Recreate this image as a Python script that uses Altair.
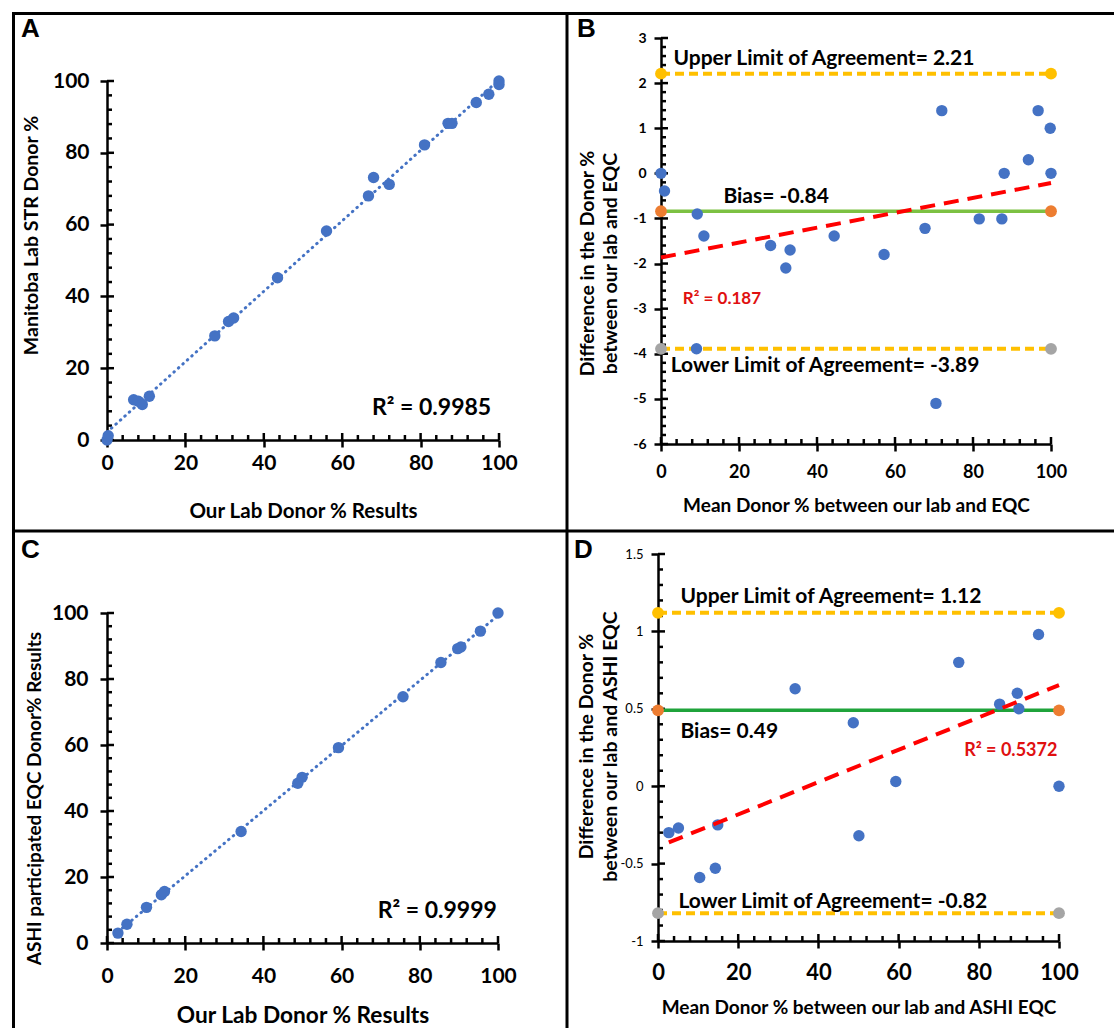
import altair as alt
import pandas as pd

W, H = 1114, 1028
FONT = "Lato"
BLUE = "#4472C4"
INK = "#000000"

# ---------------- data ----------------
# Panel A: our lab vs Manitoba STR
a_x = [0, 0.3, 6.8, 8.0, 9.0, 10.8, 27.5, 31.0, 32.3, 43.5, 56.0, 66.7, 68.0, 72.0, 81.0, 87.0, 88.0, 94.2, 97.4, 100.0, 100.0]
a_y = [0, 1.2, 11.2, 10.8, 9.9, 12.2, 29.0, 33.0, 34.0, 45.2, 58.2, 68.0, 73.1, 71.2, 82.2, 88.2, 88.2, 94.0, 96.3, 100.0, 99.0]

# Panel B: Bland-Altman vs EQC
b_x = [0, 0.9, 9.3, 11.0, 9.1, 28.1, 32.0, 33.1, 44.4, 57.2, 67.7, 70.5, 72.0, 81.6, 87.4, 88.0, 94.2, 96.7, 99.8, 100.0]
b_y = [0.0, -0.39, -0.9, -1.39, -3.89, -1.6, -2.1, -1.7, -1.39, -1.8, -1.22, -5.1, 1.39, -1.01, -1.01, 0.0, 0.3, 1.39, 1.0, 0.0]
b_limits = {"upper": 2.21, "bias": -0.84, "lower": -3.89}

# Panel C: our lab vs ASHI EQC
c_x = [2.8, 5.1, 10.1, 13.9, 14.7, 34.3, 48.8, 49.9, 59.2, 75.7, 85.4, 89.7, 90.5, 95.5, 100.0]
c_y = [3.0, 5.7, 10.8, 14.6, 15.6, 33.8, 48.4, 50.2, 59.2, 74.6, 85.0, 89.2, 89.7, 94.5, 100.0]

# Panel D: Bland-Altman vs ASHI EQC
d_x = [2.7, 5.1, 10.4, 14.9, 14.3, 34.2, 48.7, 50.1, 59.3, 75.0, 85.2, 89.6, 90.0, 94.9, 100.0]
d_y = [-0.30, -0.27, -0.59, -0.25, -0.53, 0.63, 0.41, -0.32, 0.03, 0.80, 0.53, 0.60, 0.50, 0.98, 0.0]
d_limits = {"upper": 1.12, "bias": 0.49, "lower": -0.82}

# tick values
pct_major = [0, 20, 40, 60, 80, 100]
pct_minor = [v for v in range(0, 101, 4) if v % 20 != 0]
b_y_major = [-6, -5, -4, -3, -2, -1, 0, 1, 2, 3]
b_y_minor = [round(-6 + 0.2 * i, 2) for i in range(46) if i % 5 != 0]
d_y_major = [-1, -0.5, 0, 0.5, 1, 1.5]
d_y_minor = [round(-1 + 0.1 * i, 2) for i in range(26) if i % 5 != 0]

MAJOR_PX, MINOR_PX = 7, 5


def scales(p):
    xs = alt.Scale(domain=p["xdom"], range=list(p["xr"]), nice=False, zero=False)
    ys = alt.Scale(domain=p["ydom"], range=list(p["yr"]), nice=False, zero=False)
    return xs, ys


def axes(p):
    xr, yr = p["xr"], p["yr"]
    xs, ys = scales(p)
    xaxis = alt.Axis(
        orient="bottom", offset=-(H - yr[0]), values=p["xmaj"], ticks=True, tickSize=MAJOR_PX,
        tickWidth=2.5, tickColor=INK, grid=False,
        domainColor=INK, domainWidth=2.5, labelFont=FONT, labelFontSize=p["xlfs"],
        labelFontWeight="bold", labelColor="black", labelPadding=p["xlp"] - MAJOR_PX,
        labelExpr="'' + datum.value", labelFlush=False, labelOverlap=False, labelBaseline="top",
        title=p["xtitle"], titleFont=FONT, titleFontSize=p["xtfs"], titleFontWeight="bold",
        titleColor="black", titleX=(xr[0] + xr[1]) / 2, titleY=p["xty"], titleAlign="center",
        titleBaseline="alphabetic",
    )
    yaxis = alt.Axis(
        orient="left", offset=-xr[0], values=p["ymaj"], ticks=True, tickSize=MAJOR_PX,
        tickWidth=2.5, tickColor=INK, grid=False,
        domainColor=INK, domainWidth=2.5, labelFont=FONT, labelFontSize=p["ylfs"],
        labelFontWeight=p["ylfw"], labelColor="black", labelPadding=p["ylp"] - MAJOR_PX,
        labelExpr="'' + datum.value", labelFlush=False, labelOverlap=False, labelBaseline="middle",
        title=p["ytitle"], titleFont=FONT, titleFontSize=p["ytfs"], titleFontWeight="bold",
        titleColor="black", titleX=p["ytx"], titleY=p["yty"], titleAlign="center",
        titleBaseline="alphabetic", titleAngle=270, titleLineHeight=p.get("ytlh", 22),
    )
    X = alt.X("x:Q", scale=xs, axis=xaxis)
    Y = alt.Y("y:Q", scale=ys, axis=yaxis)
    return X, Y


def tick_layer(p, X, Y):
    """Inward halves of the major ticks and the inward minor ticks, as short segments."""
    xr, yr = p["xr"], p["yr"]
    x0, y0 = p["xdom"][0], p["ydom"][0]
    ux = (p["xdom"][1] - p["xdom"][0]) / (xr[1] - xr[0])   # data units per pixel
    uy = (p["ydom"][1] - p["ydom"][0]) / (yr[0] - yr[1])
    rows = []
    k = 0
    for vals, n in ((p["xmaj"], MAJOR_PX), (p["xmin"], MINOR_PX)):
        for v in vals:
            rows += [{"x": v, "y": y0, "id": k}, {"x": v, "y": y0 + n * uy, "id": k}]
            k += 1
    for vals, n in ((p["ymaj"], MAJOR_PX), (p["ymin"], MINOR_PX)):
        for v in vals:
            rows += [{"x": x0, "y": v, "id": k}, {"x": x0 + n * ux, "y": v, "id": k}]
            k += 1
    return alt.Chart(pd.DataFrame(rows)).mark_line(color=INK, strokeWidth=2.5).encode(
        x=X, y=Y, detail="id:N")


def text_layer(X, Y, x, y, label, size, color="black", align="left", weight="bold"):
    return alt.Chart(pd.DataFrame({"x": [x], "y": [y], "t": [label]})).mark_text(
        font=FONT, fontSize=size, fontWeight=weight, color=color, align=align, baseline="alphabetic"
    ).encode(x=X, y=Y, text="t:N")


def scatter_panel(p, xs_, ys_, r2_label, r2_pos, r2_size):
    X, Y = axes(p)
    pts = pd.DataFrame({"x": xs_, "y": ys_})
    trend = alt.Chart(pts).transform_regression("x", "y").mark_line(
        color=BLUE, strokeWidth=3, strokeDash=[0.5, 5.5], strokeCap="round").encode(x=X, y=Y)
    dots = alt.Chart(pts).mark_circle(size=130, color=BLUE, opacity=1).encode(x=X, y=Y)
    r2 = text_layer(X, Y, r2_pos[0], r2_pos[1], r2_label, r2_size, align="right", weight="bold")
    return alt.layer(tick_layer(p, X, Y), trend, dots, r2)


def ba_panel(p, xs_, ys_, lim, bias_color, texts, r2_text):
    X, Y = axes(p)
    pts = pd.DataFrame({"x": xs_, "y": ys_})
    ends = [0, 100]
    up = pd.DataFrame({"x": ends, "y": [lim["upper"]] * 2})
    bi = pd.DataFrame({"x": ends, "y": [lim["bias"]] * 2})
    lo = pd.DataFrame({"x": ends, "y": [lim["lower"]] * 2})
    layers = [
        tick_layer(p, X, Y),
        alt.Chart(up).mark_line(color="#FFC000", strokeWidth=4, strokeDash=[9, 5]).encode(x=X, y=Y),
        alt.Chart(lo).mark_line(color="#FFC000", strokeWidth=4, strokeDash=[9, 5]).encode(x=X, y=Y),
        alt.Chart(bi).mark_line(color=bias_color, strokeWidth=3.5).encode(x=X, y=Y),
        alt.Chart(up).mark_circle(size=140, color="#FFC000", opacity=1).encode(x=X, y=Y),
        alt.Chart(bi).mark_circle(size=140, color="#ED7D31", opacity=1).encode(x=X, y=Y),
        alt.Chart(lo).mark_circle(size=140, color="#A5A5A5", opacity=1).encode(x=X, y=Y),
        alt.Chart(pts).mark_circle(size=130, color=BLUE, opacity=1).encode(x=X, y=Y),
        alt.Chart(pts).transform_regression("x", "y").mark_line(
            color="#FF0000", strokeWidth=4, strokeDash=[15, 9]).encode(x=X, y=Y),
    ]
    for (tx, ty, lab) in texts:
        layers.append(text_layer(X, Y, tx, ty, lab, 21))
    rx, ry, rlab, ralign, rsize = r2_text
    layers.append(text_layer(X, Y, rx, ry, rlab, rsize, color="#E01010", align=ralign))
    return alt.layer(*layers)


pA = dict(xr=(107, 499), yr=(440, 81), xdom=[0, 100], ydom=[0, 100],
          xmaj=pct_major, xmin=pct_minor, ymaj=pct_major, ymin=pct_minor,
          xlfs=21, xlp=12, ylfs=21, ylfw="bold", ylp=18,
          xtitle="Our Lab Donor % Results", xtfs=20.5, xty=77,
          ytitle="Manitoba Lab STR Donor %", ytfs=19.5, ytx=-70, yty=235)
pB = dict(xr=(661, 1051), yr=(444, 38), xdom=[0, 100], ydom=[-6, 3],
          xmaj=pct_major, xmin=pct_minor, ymaj=b_y_major, ymin=b_y_minor,
          xlfs=18, xlp=19, ylfs=14, ylfw="bold", ylp=15,
          xtitle="Mean Donor % between our lab and EQC", xtfs=19, xty=67,
          ytitle=["Difference in the Donor %", "between our lab and EQC"], ytfs=19.5,
          ytx=-68, yty=263, ytlh=23)
pC = dict(xr=(107, 498), yr=(943, 613), xdom=[0, 100], ydom=[0, 100],
          xmaj=pct_major, xmin=pct_minor, ymaj=pct_major, ymin=pct_minor,
          xlfs=21, xlp=22, ylfs=21, ylfw="bold", ylp=19,
          xtitle="Our Lab Donor % Results", xtfs=22.7, xty=79,
          ytitle="ASHI participated  EQC Donor%  Results", ytfs=19, ytx=-67, yty=798)
pD = dict(xr=(658, 1059), yr=(941, 554), xdom=[0, 100], ydom=[-1, 1.5],
          xmaj=pct_major, xmin=pct_minor, ymaj=d_y_major, ymin=d_y_minor,
          xlfs=22, xlp=21, ylfs=13, ylfw="normal", ylp=15,
          xtitle="Mean Donor % between our lab and ASHI EQC", xtfs=19, xty=72,
          ytitle=["Difference in the Donor %", "between our lab and ASHI EQC"], ytfs=19.5,
          ytx=-66, yty=746, ytlh=24)

panelA = scatter_panel(pA, a_x, a_y, "R² = 0.9985", (98, 7), 23)
panelC = scatter_panel(pC, c_x, c_y, "R² = 0.9999", (99.7, 7.6), 23)
panelB = ba_panel(pB, b_x, b_y, b_limits, "#7CC142",
                  [(3.2, 2.40, "Upper Limit of Agreement= 2.21"),
                   (16, -0.66, "Bias= -0.84"),
                   (2.5, -4.40, "Lower Limit of Agreement= -3.89")],
                  (5.6, -2.9, "R² = 0.187", "left", 17))
panelD = ba_panel(pD, d_x, d_y, d_limits, "#1FA33B",
                  [(5.6, 1.181, "Upper Limit of Agreement= 1.12"),
                   (5.6, 0.309, "Bias= 0.49"),
                   (5.1, -0.789, "Lower Limit of Agreement= -0.82")],
                  (99.6, 0.195, "R² = 0.5372", "right", 18))

# frame lines and panel letters (decoration)
deco = [
    alt.Chart().mark_rule(color="black", strokeWidth=3).encode(
        x=alt.value(12), x2=alt.value(W), y=alt.value(13.5)),
    alt.Chart().mark_rule(color="black", strokeWidth=3).encode(
        x=alt.value(12), x2=alt.value(W), y=alt.value(531)),
    alt.Chart().mark_rule(color="black", strokeWidth=3).encode(
        x=alt.value(13.5), y=alt.value(12), y2=alt.value(H)),
    alt.Chart().mark_rule(color="black", strokeWidth=3).encode(
        x=alt.value(567), y=alt.value(12), y2=alt.value(H)),
]
for letter, lx, ly in [("A", 21, 37), ("B", 577, 37), ("C", 21, 558), ("D", 574, 558)]:
    deco.append(alt.Chart().mark_text(font="Liberation Sans", fontSize=26, fontWeight="bold",
                                      color="black", align="left", baseline="alphabetic").encode(
        x=alt.value(lx), y=alt.value(ly), text=alt.value(letter)))

chart = alt.layer(panelA, panelB, panelC, panelD, *deco).resolve_scale(
    x="independent", y="independent"
).properties(
    width=W, height=H, padding=0, background="white",
    autosize=alt.AutoSizeParams(type="none"),
).configure_view(strokeWidth=0)

chart.save("out.html", embed_options={"renderer": "svg", "actions": False})
